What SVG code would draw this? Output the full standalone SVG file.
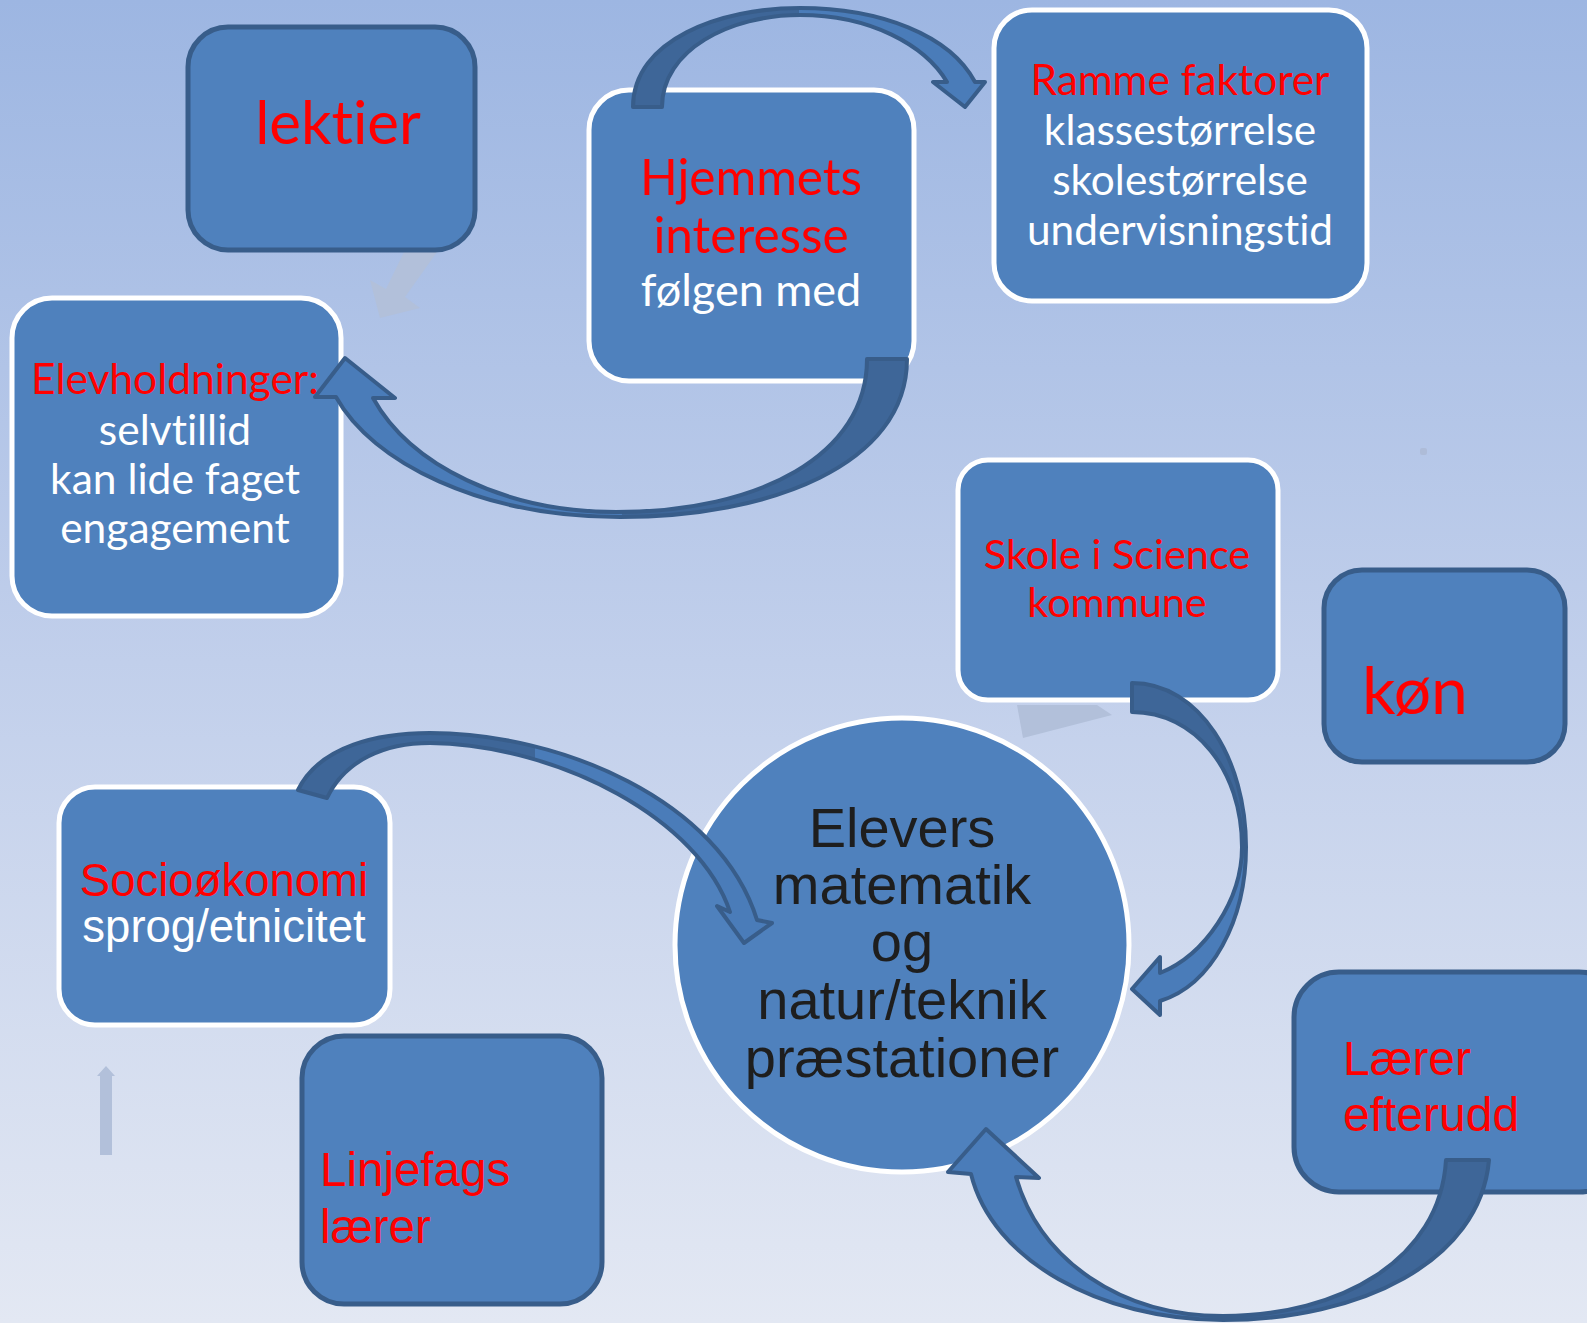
<svg xmlns="http://www.w3.org/2000/svg" width="1587" height="1323" viewBox="0 0 1587 1323">
  <defs>
    <linearGradient id="bg" x1="0" y1="0" x2="0" y2="1">
      <stop offset="0" stop-color="#9db6e2"/>
      <stop offset="0.5" stop-color="#c1cfeb"/>
      <stop offset="1" stop-color="#e3e8f3"/>
    </linearGradient>
    <!-- two-tone fills for the curved block arrows: back face darker, front face lighter -->
    <linearGradient id="g1" gradientUnits="userSpaceOnUse" x1="630" y1="0" x2="990" y2="0">
      <stop offset="0" stop-color="#3e6698"/><stop offset="0.47" stop-color="#3e6698"/>
      <stop offset="0.47" stop-color="#4a7cb9"/><stop offset="1" stop-color="#4a7cb9"/>
    </linearGradient>
    <linearGradient id="g2" gradientUnits="userSpaceOnUse" x1="310" y1="0" x2="910" y2="0">
      <stop offset="0" stop-color="#4a7cb9"/><stop offset="0.52" stop-color="#4a7cb9"/>
      <stop offset="0.52" stop-color="#3e6698"/><stop offset="1" stop-color="#3e6698"/>
    </linearGradient>
    <linearGradient id="g3" gradientUnits="userSpaceOnUse" x1="0" y1="680" x2="0" y2="1020">
      <stop offset="0" stop-color="#3e6698"/><stop offset="0.5" stop-color="#3e6698"/>
      <stop offset="0.5" stop-color="#4a7cb9"/><stop offset="1" stop-color="#4a7cb9"/>
    </linearGradient>
    <linearGradient id="g4" gradientUnits="userSpaceOnUse" x1="295" y1="0" x2="775" y2="0">
      <stop offset="0" stop-color="#3e6698"/><stop offset="0.5" stop-color="#3e6698"/>
      <stop offset="0.5" stop-color="#4a7cb9"/><stop offset="1" stop-color="#4a7cb9"/>
    </linearGradient>
    <linearGradient id="g5" gradientUnits="userSpaceOnUse" x1="945" y1="0" x2="1492" y2="0">
      <stop offset="0" stop-color="#4a7cb9"/><stop offset="0.5" stop-color="#4a7cb9"/>
      <stop offset="0.5" stop-color="#3e6698"/><stop offset="1" stop-color="#3e6698"/>
    </linearGradient>
  </defs>
  <style>
    .box { fill: #4f81bd; }
    .dark { stroke: #385d8a; stroke-width: 5; }
    .white { stroke: #ffffff; stroke-width: 5; }
    .cal { font-family: Lato, "Open Sans", sans-serif; text-anchor: middle; font-variant-ligatures: none; font-feature-settings: "liga" 0; }
    .ari { font-family: "Liberation Sans", Arial, sans-serif; }
    .red { fill: #ff0000; }
    .wt { fill: #ffffff; }
    .arrow { stroke: #385d8a; stroke-width: 4; stroke-linejoin: round; }
    .ghost { fill: #b2c0da; }
  </style>

  <rect width="1587" height="1323" fill="url(#bg)"/>

  <!-- faint leftover shapes -->
  <g id="ghosts">
    <polygon class="ghost" points="404,252 437,252 405,297 420,308 380,318 370,280 386,289"/>
    <polygon class="ghost" points="1017,705 1097,705 1112,715 1023,738"/>
    <polygon class="ghost" points="100,1076 97,1076 106,1066 115,1076 112,1076 112,1155 100,1155" fill="#abbad8"/>
    <rect x="1420" y="448" width="7" height="7" rx="2" fill="#aebcd8"/>
  </g>

  <g id="node-lektier">
    <rect class="box dark" x="188" y="27" width="287" height="223" rx="40"/>
    <text class="cal red" x="338" y="144" font-size="60">lektier</text>
  </g>

  <g id="node-elevholdninger">
    <rect class="box white" x="12" y="298" width="329" height="318" rx="40"/>
    <text class="cal red" x="175" y="394" font-size="42.5">Elevholdninger:</text>
    <text class="cal wt" x="175" y="445" font-size="42.5">selvtillid</text>
    <text class="cal wt" x="175" y="494" font-size="42.5">kan lide faget</text>
    <text class="cal wt" x="175" y="543" font-size="42.5">engagement</text>
  </g>

  <g id="node-hjemmets">
    <rect class="box white" x="589" y="90" width="325" height="291" rx="40"/>
    <text class="cal red" x="751" y="195" font-size="49.5">Hjemmets</text>
    <text class="cal red" x="751" y="253" font-size="49.5">interesse</text>
    <text class="cal wt" x="751" y="306" font-size="45">følgen med</text>
  </g>

  <g id="node-ramme">
    <rect class="box white" x="994" y="10" width="373" height="291" rx="38"/>
    <text class="cal red" x="1180" y="95" font-size="42.4">Ramme faktorer</text>
    <text class="cal wt" x="1180" y="145" font-size="42.4">klassestørrelse</text>
    <text class="cal wt" x="1180" y="195" font-size="42.4">skolestørrelse</text>
    <text class="cal wt" x="1180" y="245" font-size="42.4">undervisningstid</text>
  </g>

  <g id="node-skole">
    <rect class="box white" x="958" y="460" width="320" height="240" rx="30"/>
    <text class="cal red" x="1117" y="569" font-size="41.4">Skole i Science</text>
    <text class="cal red" x="1117" y="617" font-size="41.4">kommune</text>
  </g>

  <g id="node-kon">
    <rect class="box dark" x="1324" y="570" width="241" height="192" rx="38"/>
    <text class="cal red" x="1362" y="714" font-size="66" style="text-anchor:start">køn</text>
  </g>

  <g id="node-center">
    <circle class="box white" cx="902" cy="945" r="227"/>
    <g class="ari" font-size="56" fill="#1e1e1e" text-anchor="middle">
      <text x="902" y="847">Elevers</text>
      <text x="902" y="904">matematik</text>
      <text x="902" y="961">og</text>
      <text x="902" y="1019">natur/teknik</text>
      <text x="902" y="1077">præstationer</text>
    </g>
  </g>

  <g id="node-socio">
    <rect class="box white" x="59" y="787" width="331" height="238" rx="36"/>
    <text class="ari red" x="224" y="896" font-size="45.5" text-anchor="middle">Socioøkonomi</text>
    <text class="ari wt" x="224" y="942" font-size="45.5" text-anchor="middle">sprog/etnicitet</text>
  </g>

  <g id="node-linjefags">
    <rect class="box dark" x="302" y="1036" width="300" height="268" rx="42"/>
    <text class="ari red" x="320" y="1186" font-size="47.5">Linjefags</text>
    <text class="ari red" x="320" y="1243" font-size="47.5">lærer</text>
  </g>

  <g id="node-efterudd">
    <rect class="box dark" x="1294" y="972" width="330" height="220" rx="45"/>
    <text class="ari red" x="1343" y="1075" font-size="48">Lærer</text>
    <text class="ari red" x="1343" y="1131" font-size="48">efterudd</text>
  </g>

  <g id="connectors">
    <!-- Hjemmets -> Ramme faktorer -->
    <path class="arrow" fill="url(#g1)" d="M 633,107 C 633,40 720,8 800,8 C 880,8 950,35 975,82 L 985,82 L 965,107 L 933,82 L 947,82 C 925,45 870,15 800,15 C 730,15 662,50 662,107 Z"/>
    <!-- Hjemmets -> Elevholdninger -->
    <path class="arrow" fill="url(#g2)" d="M 907,359 C 907,465 770,517 620,517 C 480,517 372,462 336,397 L 315,397 L 345,358 L 395,398 L 373,398 C 410,465 505,512 616,512 C 760,512 867,455 867,359 Z"/>
    <!-- Skole i Science -> center -->
    <path class="arrow" fill="url(#g3)" d="M 1132,683 C 1200,683 1246,760 1246,847 C 1246,920 1212,985 1160,1001 L 1160,1015 L 1132,989 L 1160,957 L 1160,973 C 1205,955 1242,900 1242,847 C 1242,770 1195,712 1132,712 Z"/>
    <!-- Socioøkonomi -> center -->
    <path class="arrow" fill="url(#g4)" d="M 298,790 C 320,745 380,733 430,733 C 560,733 720,800 757,920 L 772,923 L 744,943 L 717,906 L 730,912 C 700,820 560,745 430,743 C 385,743 345,760 327,798 Z"/>
    <!-- Lærer efterudd -> center -->
    <path class="arrow" fill="url(#g5)" d="M 1489,1160 C 1480,1262 1360,1320 1223,1320 C 1100,1320 992,1260 971,1174 L 948,1172 L 986,1129 L 1039,1178 L 1016,1177 C 1040,1260 1120,1316 1223,1316 C 1340,1316 1440,1260 1446,1160 Z"/>
  </g>
</svg>
